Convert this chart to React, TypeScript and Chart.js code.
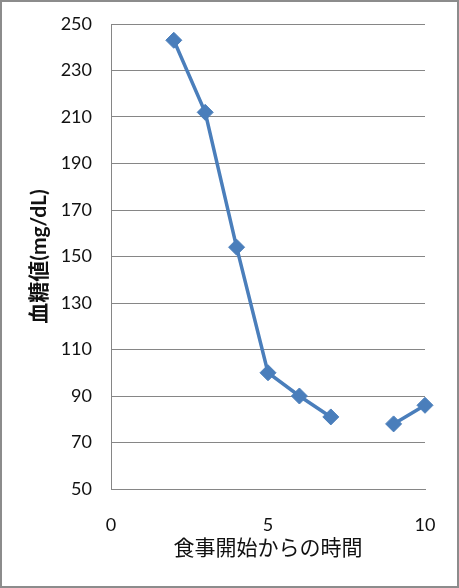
import React, { useEffect, useRef } from "react";
import { Chart, registerables } from "chart.js";

Chart.register(...registerables);

const hours = [2, 3, 4, 5, 6, 7, 8, 9, 10];
const glucose: (number | null)[] = [243, 212, 154, 100, 90, 81, null, 78, 86];
const yMin = 50;
const yMax = 250;
const yStep = 20;
const xMin = 0;
const xMax = 10;
const xStep = 5;
const xTitle = "食事開始からの時間";
const yTitle = "血糖値(mg/dL)";

export default function App() {
  const ref = useRef<HTMLCanvasElement | null>(null);
  useEffect(() => {
    document.body.style.margin = "0";
    const ctx = ref.current!;
    const color = "#4A7EBB";
    const chart = new Chart(ctx, {
      type: "line",
      data: {
        datasets: [
          {
            data: hours.map((h, i) => ({ x: h, y: glucose[i] })) as any,
            borderColor: color,
            backgroundColor: color,
            borderWidth: 3.5,
            pointStyle: "rectRot",
            pointRadius: 8,
            pointBorderWidth: 1,
            pointBackgroundColor: color,
            pointBorderColor: color,
            spanGaps: false,
            tension: 0,
            clip: false as any,
          },
        ],
      },
      options: {
        animation: false,
        responsive: false,
        maintainAspectRatio: false,
        layout: { padding: { top: 22, right: 32, bottom: 0, left: 0 } },
        plugins: { legend: { display: false }, tooltip: { enabled: false } },
        scales: {
          x: {
            type: "linear",
            min: xMin,
            max: xMax,
            ticks: {
              stepSize: xStep,
              padding: 17,
              color: "#111",
              font: { family: "Lato, 'Noto Sans CJK JP'", size: 18 },
            },
            grid: { display: false },
            border: { display: true, color: "#868686", width: 1 },
            title: {
              display: true,
              text: xTitle,
              color: "#111",
              font: { family: "'Noto Sans CJK JP'", size: 21 },
              padding: { top: 0, bottom: 26 },
            },
            afterFit: (s: any) => {
              s.height = 97;
              s.paddingLeft = 0;
              s.paddingRight = 0;
            },
          },
          y: {
            type: "linear",
            min: yMin,
            max: yMax,
            ticks: {
              stepSize: yStep,
              padding: 19,
              color: "#111",
              font: { family: "Lato, 'Noto Sans CJK JP'", size: 18 },
            },
            grid: { color: "#868686", lineWidth: 1, drawTicks: false },
            border: { display: true, color: "#868686", width: 1 },
            title: {
              display: true,
              text: yTitle,
              color: "#111",
              font: { family: "Lato, 'Noto Sans CJK JP'", size: 21, weight: "bold" },
              padding: { top: 25, bottom: 0 },
            },
            afterFit: (s: any) => {
              s.width = 109;
              s.paddingTop = 0;
              s.paddingBottom = 0;
            },
          },
        },
      },
    });
    return () => chart.destroy();
  }, []);
  return (
    <div
      style={{
        position: "absolute",
        left: 0,
        top: 0,
        width: 459,
        height: 588,
        boxSizing: "border-box",
        border: "2px solid #8c8c8c",
        background: "#fff",
      }}
    >
      <canvas ref={ref} width={455} height={584} style={{ display: "block" }} />
    </div>
  );
}
